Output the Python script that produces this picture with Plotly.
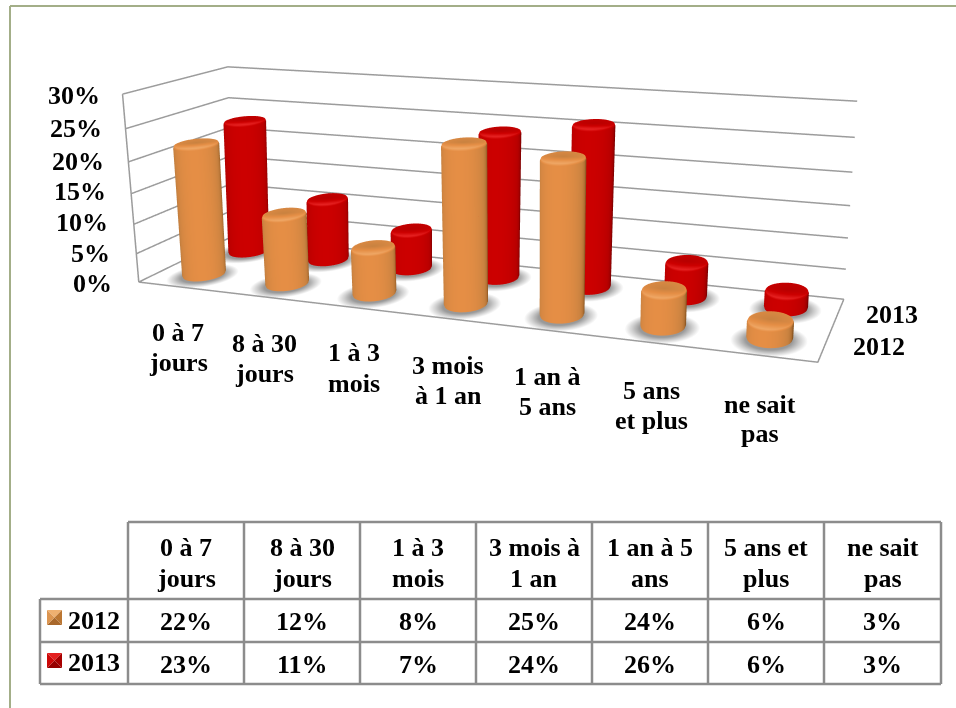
import numpy as np
import plotly.graph_objects as go

W, H = 956, 708

categories = ["0 à 7\njours", "8 à 30\njours", "1 à 3\nmois", "3 mois\nà 1 an", "1 an à\n5 ans", "5 ans\net plus", "ne sait\npas"]
table_headers = ["0 à 7\njours", "8 à 30\njours", "1 à 3\nmois", "3 mois à\n1 an", "1 an à 5\nans", "5 ans et\nplus", "ne sait\npas"]
series_names = ["2012", "2013"]
values_2012 = [22, 12, 8, 25, 24, 6, 3]
values_2013 = [23, 11, 7, 24, 26, 6, 3]
z_ticks = [0, 5, 10, 15, 20, 25, 30]

# Scene proportions and viewpoint
ASPECT_X, ASPECT_Y, ASPECT_Z = 2.1212, 0.4411, 0.6113
EYE = dict(x=0.6626, y=-2.4304, z=0.8700)
CENTER = dict(x=0.1407, y=-0.4035, z=-0.3091)

# Plotly's field of view is fixed, so columns and depth lines are eased a little
# along x to give the flatter perspective of the chart.
LEAN, LEAN_PIVOT = -0.0785, 3.4124
SPREAD, SPREAD_PIVOT = 0.0075, -43.1219


def eased_x(x, y, z):
    return x + LEAN*(x-LEAN_PIVOT)*z/30 + SPREAD*(x-SPREAD_PIVOT)*y/2


RADIUS = 0.03*ASPECT_X
rx = RADIUS/(ASPECT_X/7)
ry = RADIUS/(ASPECT_Y/2)
theta = np.linspace(0, 2*np.pi, 73)
FLAT = dict(ambient=1, diffuse=0, specular=0, fresnel=0, roughness=1)

fig = go.Figure()

# Soft shadows on the floor
for row, vals in enumerate([values_2012, values_2013]):
    for i in range(len(vals)):
        T, Q = np.meshgrid(theta, np.linspace(0, 1, 12))
        sx = i+.5 + 1.65*Q*rx*np.cos(T)
        sy = row+.5-0.03 + 1.65*Q*ry*np.sin(T)
        fig.add_trace(go.Surface(
            x=eased_x(sx, sy, 0), y=sy, z=np.full_like(sx, -0.1), surfacecolor=Q, cmin=0, cmax=1,
            colorscale=[[0, "#909090"], [.6, "#9a9a9a"], [.8, "#cfcfcf"], [1, "#ffffff"]],
            showscale=False, hoverinfo="skip", lighting=FLAT))

# Gridlines on the two walls, plus the floor outline
lx, ly, lz = [], [], []
for z in z_ticks:
    lx += [eased_x(0, 0, z), eased_x(0, 2, z), eased_x(7, 2, z), None]
    ly += [0, 2, 2, None]
    lz += [z, z, z, None]
lx += [eased_x(0, 0, 0), eased_x(0, 0, 30), None, eased_x(0, 0, 0), eased_x(7, 0, 0), eased_x(7, 2, 0)]
ly += [0, 0, None, 0, 0, 2]
lz += [0, 30, None, 0, 0, 0]
fig.add_trace(go.Scatter3d(x=lx, y=ly, z=lz, mode="lines", line=dict(color="#9c9c9c", width=3),
                           hoverinfo="skip", showlegend=False))

# Columns, shaded by how far each facet turns away from the viewer
palettes = [[[0, "#8a5520"], [.45, "#c98240"], [.72, "#e58e45"], [1, "#efa765"]],
            [[0, "#780000"], [.45, "#b80000"], [.72, "#cc0000"], [1, "#e62222"]]]
for row, vals in enumerate([values_2012, values_2013]):
    for i, v in enumerate(vals):
        prof_r = np.array([0, .97, 1, 1, .96, .86, 0])
        prof_z = np.array([0, 0, .3, v-.45, v-.12, v, v])
        T, P = np.meshgrid(theta, np.arange(len(prof_r)))
        rr, zz = prof_r[P], prof_z[P]
        cx = i+.5 + rr*rx*np.cos(T)
        cy = row+.5 + rr*ry*np.sin(T)
        vx = EYE["x"] - (i+.5-3.5)/7*ASPECT_X
        vy = EYE["y"] - (row+.5-1)/2*ASPECT_Y
        n = np.hypot(vx, vy)
        facing = np.clip(np.cos(T)*vx/n + np.sin(T)*vy/n, 0, 1)
        shade = .72*facing**.5
        shade[4] = .72+.28*facing[4]
        shade[5] = .6+.3*facing[5]
        shade[6] = .45
        fig.add_trace(go.Surface(
            x=eased_x(cx, cy, zz), y=cy, z=zz, surfacecolor=shade, cmin=0, cmax=1,
            colorscale=palettes[row], showscale=False, hoverinfo="skip", lighting=FLAT))


def X(p):
    return p/W


def Y(p):
    return 1-p/H


def label(xc, yc, s, anchor="center", size=26):
    fig.add_annotation(x=X(xc), y=Y(yc), xref="paper", yref="paper", text=f"<b>{s}</b>", showarrow=False,
                       xanchor=anchor, yanchor="middle",
                       font=dict(family="Liberation Serif", size=size, color="black"))


# Value axis labels
tick_right = [114, 112, 110, 108, 106, 104, 102]
tick_y = [283, 253, 222, 191, 161, 128, 96]
for z, xr, yy in zip(z_ticks, tick_right, tick_y):
    label(xr, yy, f"{z}%", "right")

# Category labels below the floor
cat_x = [178, 264, 354, 448, 547, 651, 760]
cat_y = [332, 343, 353, 365, 376, 390, 404]
for s, xc, yc in zip(categories, cat_x, cat_y):
    for j, line in enumerate(s.split("\n")):
        label(xc, yc+30*j, line)

# Series labels beside the floor
label(892, 314, series_names[1])
label(879, 347, series_names[0])

# Page frame
FRAME = "#a3ae88"
fig.add_shape(type="line", xref="paper", yref="paper", x0=X(10), x1=X(956), y0=Y(6), y1=Y(6),
              line=dict(color=FRAME, width=2))
fig.add_shape(type="line", xref="paper", yref="paper", x0=X(10), x1=X(10), y0=Y(6), y1=Y(708),
              line=dict(color=FRAME, width=2))

# Data table
col_x = [128, 244, 360, 476, 592, 708, 824, 941]
row_y = [522, 599, 642, 684]


def rule(a, b, c, d):
    fig.add_shape(type="line", xref="paper", yref="paper", x0=X(a), x1=X(c), y0=Y(b), y1=Y(d),
                  line=dict(color="#8c8c8c", width=2.5))


for yy in row_y:
    rule(col_x[0] if yy == row_y[0] else 40, yy, col_x[-1], yy)
for xx in col_x:
    rule(xx, row_y[0], xx, row_y[-1])
rule(40, row_y[1], 40, row_y[-1])

for j, s in enumerate(table_headers):
    xc = (col_x[j]+col_x[j+1])/2
    for m, line in enumerate(s.split("\n")):
        label(xc, 547+31*m, line)
    label(xc, 621, f"{values_2012[j]}%")
    label(xc, 664, f"{values_2013[j]}%")
label(94, 620, series_names[0])
label(94, 662, series_names[1])


# Legend keys with a bevelled look
def key(x0, y0, cols, size=15):
    x1, y1 = x0+size, y0+size
    mx, my = x0+size/2, y0+size/2
    edges = [((x0, y0), (x1, y0)), ((x1, y0), (x1, y1)), ((x1, y1), (x0, y1)), ((x0, y1), (x0, y0))]
    for (a, b), col in zip(edges, cols):
        path = f"M {X(a[0])} {Y(a[1])} L {X(b[0])} {Y(b[1])} L {X(mx)} {Y(my)} Z"
        fig.add_shape(type="path", xref="paper", yref="paper", path=path, fillcolor=col, line=dict(width=0))


key(47, 610, ["#efb070", "#bb7632", "#a9682b", "#dc9550"])
key(47, 653, ["#e42020", "#a80000", "#960000", "#cc0808"])

# The axes' ranges are padded evenly, so the aspect ratio is scaled by the same factors.
fig.update_layout(
    width=W, height=H, margin=dict(l=0, r=0, t=0, b=0), paper_bgcolor="white",
    scene=dict(
        domain=dict(x=[0, 1], y=[0, 1]), aspectmode="manual",
        aspectratio=dict(x=ASPECT_X*9/7, y=ASPECT_Y*2.4/2, z=ASPECT_Z*30.4/30),
        xaxis=dict(visible=False, range=[-1, 8]),
        yaxis=dict(visible=False, range=[-.2, 2.2]),
        zaxis=dict(visible=False, range=[-.2, 30.2]),
        camera=dict(eye=EYE, center=CENTER, up=dict(x=0, y=0, z=1), projection=dict(type="perspective"))))
fig.write_html("out.html")
